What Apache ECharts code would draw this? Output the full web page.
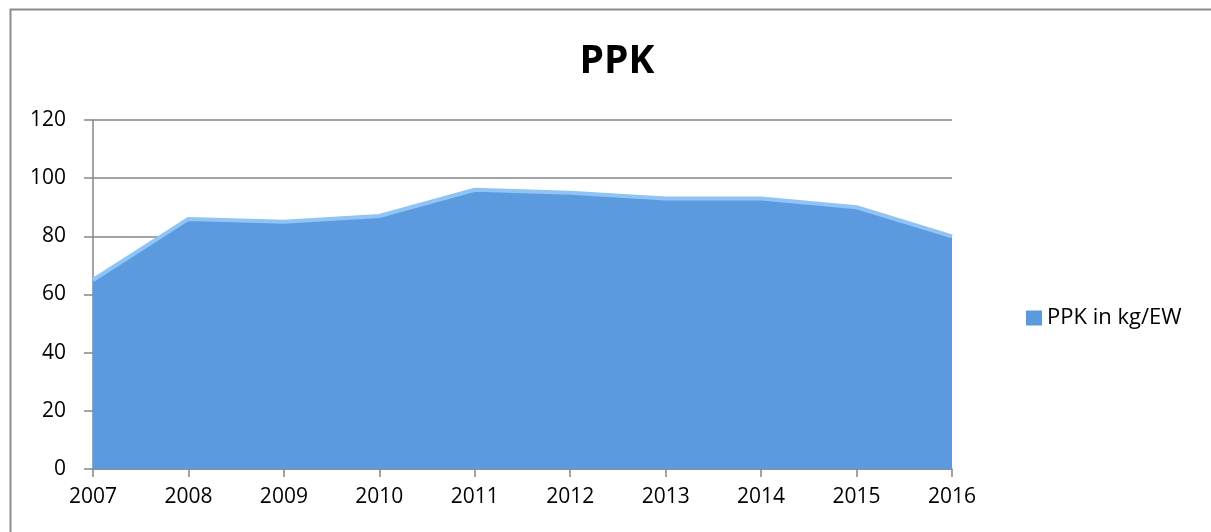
<!DOCTYPE html>
<html><head><meta charset="utf-8">
<script src="https://cdn.jsdelivr.net/npm/echarts@6/dist/echarts.min.js"></script>
<style>html,body{margin:0;padding:0;background:#fff}#c{width:1211px;height:532px}</style>
</head><body><div id="c"></div>
<script>
const years = ['2007','2008','2009','2010','2011','2012','2013','2014','2015','2016'];
const ppk = [65, 86, 85, 87, 96, 95, 93, 93, 90, 80];
const seriesName = 'PPK in kg/EW';
const titleText = 'PPK';

const chart = echarts.init(document.getElementById('c'));
const font = '"Open Sans", "Noto Sans", sans-serif';
chart.setOption({
  animation: false,
  textStyle: {fontFamily: font},
  graphic: [{type:'rect', left:8, top:7, shape:{width:1230, height:560}, style:{fill:'none', stroke:'#8c8c8c', lineWidth:2}}],
  title: {text: titleText, left: 612, top: 37, textAlign:'center',
    textStyle:{fontFamily: font, fontSize: 39, fontWeight:'bold', color:'#000'}},
  legend: {data:[{name: seriesName, icon:'rect'}], left: 1021, top: 302, itemWidth: 16, itemHeight: 15, itemGap: 5,
    textStyle:{fontFamily: font, fontSize: 22, color:'#000', padding:[0,0,0,0]}},
  grid: {left: 93, top: 120, width: 859, height: 349, containLabel:false},
  xAxis: {type:'category', data: years, boundaryGap:false,
    axisLine:{lineStyle:{color:'#868686', width:1.5}},
    axisTick:{show:true, length:8, lineStyle:{color:'#868686', width:1.5}},
    axisLabel:{color:'#000', fontSize:21, margin:18, fontFamily: font}},
  yAxis: {type:'value', min:0, max:120, interval:20,
    axisLine:{show:true, lineStyle:{color:'#868686', width:1.5}},
    axisTick:{show:true, length:9, lineStyle:{color:'#868686', width:1.5}},
    splitLine:{lineStyle:{color:'#868686', width:1.5}},
    axisLabel:{color:'#000', fontSize:21, margin:27, fontFamily: font}},
  series: [{name: seriesName, type:'line', data: ppk, symbol:'none',
    itemStyle:{color:'#5b9ade'},
    lineStyle:{color:'#8fc4f4', width:4},
    areaStyle:{color:'#5c9adf', opacity:1}}]
});
</script></body></html>
